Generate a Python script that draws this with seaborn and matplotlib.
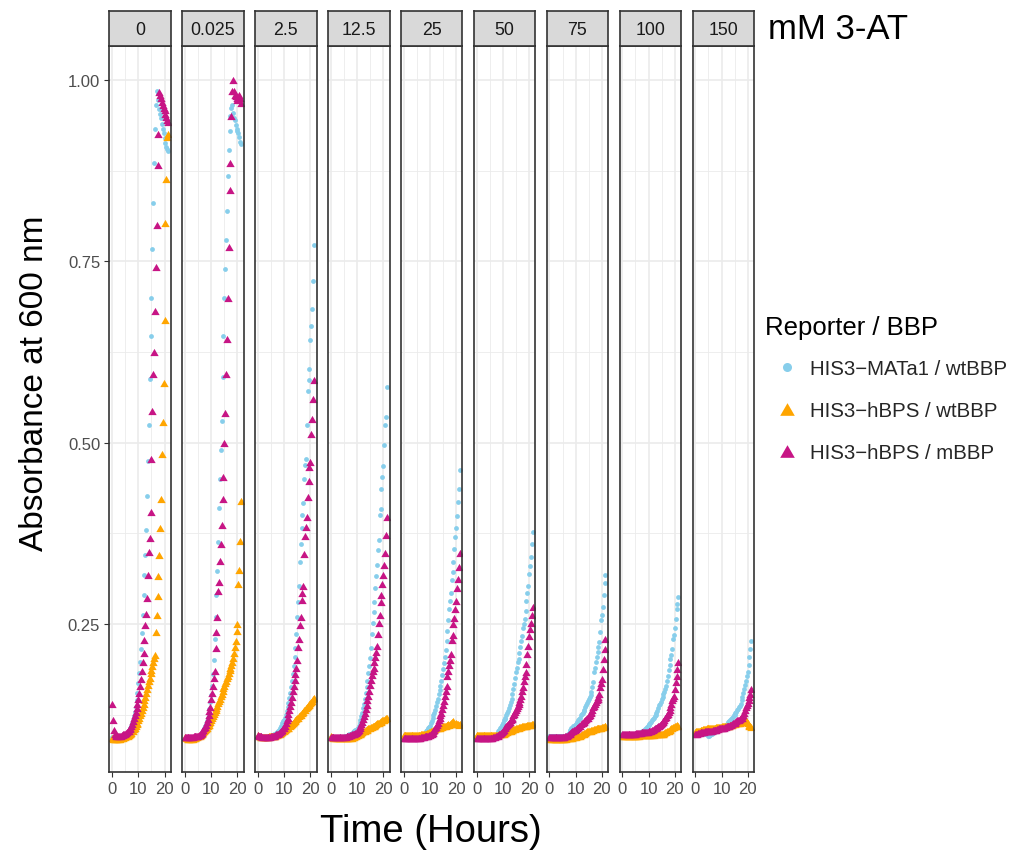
import numpy as np
import pandas as pd
import matplotlib
matplotlib.use("Agg")
import matplotlib.pyplot as plt
from matplotlib.path import Path
from matplotlib.lines import Line2D
import seaborn as sns

# ---------------- data ----------------
CONCENTRATIONS = ["0", "0.025", "2.5", "12.5", "25", "50", "75", "100", "150"]
SERIES = ["HIS3\u2212MATa1 / wtBBP", "HIS3\u2212hBPS / wtBBP", "HIS3\u2212hBPS / mBBP"]
HOURS = np.arange(65) / 3.0  # readings every 20 min, 0 .. 21.33 h (one row below = 2 h)

# HIS3-MATa1 / wtBBP (light blue)
MATA1_0 = [0.094, 0.094, 0.094, 0.093, 0.093, 0.093,
           0.093, 0.093, 0.093, 0.094, 0.094, 0.094,
           0.095, 0.096, 0.096, 0.097, 0.098, 0.098,
           0.100, 0.102, 0.104, 0.107, 0.110, 0.114,
           0.118, 0.123, 0.129, 0.136, 0.145, 0.155,
           0.168, 0.183, 0.198, 0.215, 0.238, 0.262,
           0.290, 0.317, 0.345, 0.380, 0.427, 0.475,
           0.525, 0.588, 0.647, 0.700, 0.767, 0.830,
           0.885, 0.932, 0.965, 0.985, 0.982, 0.972,
           0.960, 0.953, 0.947, 0.940, 0.933, 0.927,
           0.920, 0.913, 0.908, 0.905, 0.902]
MATA1_0025 = [0.093, 0.093, 0.093, 0.093, 0.093, 0.093,
              0.093, 0.093, 0.093, 0.093, 0.093, 0.093,
              0.094, 0.094, 0.094, 0.095, 0.096, 0.096,
              0.097, 0.099, 0.101, 0.103, 0.106, 0.109,
              0.112, 0.116, 0.120, 0.126, 0.133, 0.142,
              0.152, 0.165, 0.181, 0.200, 0.230, 0.260,
              0.290, 0.323, 0.363, 0.410, 0.450, 0.490,
              0.530, 0.590, 0.647, 0.700, 0.740, 0.780,
              0.820, 0.867, 0.903, 0.930, 0.950, 0.962,
              0.965, 0.955, 0.948, 0.945, 0.938, 0.933,
              0.930, 0.927, 0.922, 0.915, 0.912]
MATA1_2_5 = [0.095, 0.094, 0.094, 0.094, 0.094, 0.094,
             0.094, 0.094, 0.094, 0.094, 0.094, 0.094,
             0.094, 0.094, 0.095, 0.095, 0.096, 0.096,
             0.097, 0.098, 0.099, 0.100, 0.101, 0.103,
             0.104, 0.106, 0.108, 0.110, 0.113, 0.116,
             0.118, 0.121, 0.125, 0.130, 0.135, 0.141,
             0.148, 0.155, 0.163, 0.172, 0.181, 0.192,
             0.204, 0.217, 0.236, 0.259, 0.280, 0.303,
             0.336, 0.361, 0.383, 0.400, 0.417, 0.450,
             0.469, 0.478, 0.525, 0.571, 0.587, 0.602,
             0.641, 0.661, 0.684, 0.723, 0.773]
MATA1_12_5 = [0.094, 0.094, 0.094, 0.094, 0.094, 0.094,
              0.094, 0.094, 0.094, 0.094, 0.094, 0.094,
              0.094, 0.094, 0.094, 0.094, 0.095, 0.095,
              0.096, 0.096, 0.097, 0.098, 0.098, 0.099,
              0.100, 0.101, 0.102, 0.103, 0.104, 0.104,
              0.105, 0.107, 0.110, 0.114, 0.118, 0.123,
              0.128, 0.134, 0.140, 0.147, 0.155, 0.163,
              0.172, 0.182, 0.192, 0.203, 0.217, 0.236,
              0.252, 0.267, 0.280, 0.299, 0.316, 0.331,
              0.352, 0.366, 0.400, 0.409, 0.436, 0.453,
              0.468, 0.497, 0.524, 0.536, 0.577]
MATA1_25 = [0.094, 0.094, 0.094, 0.094, 0.094, 0.094,
            0.094, 0.094, 0.094, 0.094, 0.094, 0.094,
            0.094, 0.094, 0.094, 0.094, 0.094, 0.094,
            0.094, 0.094, 0.095, 0.096, 0.096, 0.097,
            0.099, 0.100, 0.102, 0.104, 0.106, 0.108,
            0.110, 0.113, 0.116, 0.120, 0.124, 0.128,
            0.132, 0.137, 0.142, 0.147, 0.153, 0.159,
            0.165, 0.172, 0.180, 0.188, 0.196, 0.205,
            0.214, 0.226, 0.241, 0.256, 0.271, 0.282,
            0.293, 0.310, 0.322, 0.335, 0.354, 0.370,
            0.382, 0.399, 0.418, 0.436, 0.462]
MATA1_50 = [0.094, 0.094, 0.094, 0.094, 0.094, 0.094,
            0.094, 0.094, 0.094, 0.094, 0.094, 0.094,
            0.094, 0.094, 0.094, 0.094, 0.094, 0.094,
            0.094, 0.095, 0.095, 0.096, 0.097, 0.098,
            0.100, 0.102, 0.104, 0.106, 0.108, 0.111,
            0.114, 0.117, 0.119, 0.121, 0.124, 0.127,
            0.130, 0.134, 0.138, 0.142, 0.147, 0.153,
            0.160, 0.167, 0.175, 0.184, 0.190, 0.198,
            0.202, 0.210, 0.218, 0.226, 0.234, 0.245,
            0.250, 0.257, 0.268, 0.282, 0.293, 0.302,
            0.319, 0.330, 0.343, 0.360, 0.377]
MATA1_75 = [0.095, 0.095, 0.095, 0.095, 0.095, 0.095,
            0.095, 0.095, 0.095, 0.095, 0.095, 0.095,
            0.095, 0.095, 0.095, 0.095, 0.095, 0.095,
            0.096, 0.096, 0.097, 0.099, 0.100, 0.102,
            0.104, 0.106, 0.107, 0.109, 0.110, 0.111,
            0.112, 0.114, 0.115, 0.117, 0.119, 0.121,
            0.124, 0.126, 0.128, 0.130, 0.132, 0.135,
            0.138, 0.141, 0.144, 0.147, 0.149, 0.152,
            0.156, 0.163, 0.170, 0.184, 0.190, 0.197,
            0.204, 0.211, 0.218, 0.225, 0.239, 0.255,
            0.262, 0.273, 0.290, 0.307, 0.317]
MATA1_100 = [0.098, 0.098, 0.098, 0.098, 0.098, 0.098,
             0.098, 0.098, 0.098, 0.098, 0.098, 0.098,
             0.098, 0.098, 0.098, 0.098, 0.098, 0.098,
             0.098, 0.099, 0.099, 0.100, 0.101, 0.102,
             0.103, 0.104, 0.105, 0.107, 0.108, 0.110,
             0.111, 0.112, 0.114, 0.115, 0.117, 0.119,
             0.121, 0.123, 0.125, 0.127, 0.130, 0.134,
             0.138, 0.140, 0.143, 0.147, 0.150, 0.153,
             0.156, 0.160, 0.165, 0.172, 0.179, 0.186,
             0.193, 0.202, 0.207, 0.216, 0.229, 0.235,
             0.245, 0.257, 0.271, 0.277, 0.287]
MATA1_150 = [0.100, 0.100, 0.100, 0.100, 0.100, 0.100,
             0.100, 0.100, 0.100, 0.100, 0.100, 0.099,
             0.099, 0.098, 0.097, 0.096, 0.096, 0.097,
             0.098, 0.099, 0.100, 0.101, 0.101, 0.102,
             0.102, 0.103, 0.103, 0.104, 0.105, 0.105,
             0.106, 0.107, 0.108, 0.109, 0.110, 0.111,
             0.112, 0.113, 0.115, 0.116, 0.117, 0.119,
             0.120, 0.122, 0.124, 0.125, 0.127, 0.129,
             0.131, 0.133, 0.135, 0.137, 0.140, 0.145,
             0.149, 0.155, 0.160, 0.166, 0.172, 0.178,
             0.184, 0.193, 0.204, 0.216, 0.227]

# HIS3-hBPS / wtBBP (orange)
WT_0 = [0.093, 0.092, 0.092, 0.092, 0.092, 0.092,
        0.092, 0.092, 0.092, 0.092, 0.093, 0.093,
        0.093, 0.094, 0.094, 0.094, 0.095, 0.095,
        0.096, 0.097, 0.098, 0.099, 0.100, 0.102,
        0.103, 0.105, 0.107, 0.109, 0.112, 0.114,
        0.117, 0.120, 0.124, 0.127, 0.131, 0.135,
        0.140, 0.145, 0.150, 0.155, 0.160, 0.166,
        0.171, 0.176, 0.182, 0.187, 0.192, 0.198,
        0.203, 0.207, 0.239, 0.263, 0.288, 0.316,
        0.345, 0.383, 0.422, 0.484, 0.529, 0.582,
        0.669, 0.803, 0.864, 0.922, 0.925]
WT_0025 = [0.094, 0.093, 0.093, 0.092, 0.092, 0.092,
           0.092, 0.092, 0.092, 0.092, 0.093, 0.093,
           0.093, 0.094, 0.094, 0.095, 0.096, 0.096,
           0.097, 0.098, 0.100, 0.101, 0.102, 0.104,
           0.105, 0.107, 0.109, 0.111, 0.113, 0.115,
           0.118, 0.121, 0.123, 0.126, 0.129, 0.131,
           0.134, 0.137, 0.141, 0.144, 0.147, 0.151,
           0.154, 0.158, 0.162, 0.165, 0.168, 0.172,
           0.176, 0.179, 0.183, 0.187, 0.190, 0.194,
           0.197, 0.203, 0.210, 0.218, 0.226, 0.240,
           0.250, 0.305, 0.325, 0.364, 0.420]
WT_2_5 = [0.097, 0.096, 0.095, 0.094, 0.094, 0.094,
          0.094, 0.094, 0.094, 0.094, 0.094, 0.094,
          0.094, 0.095, 0.095, 0.095, 0.095, 0.095,
          0.096, 0.096, 0.096, 0.097, 0.097, 0.098,
          0.099, 0.099, 0.100, 0.101, 0.101, 0.102,
          0.103, 0.104, 0.105, 0.106, 0.106, 0.107,
          0.109, 0.110, 0.111, 0.112, 0.113, 0.115,
          0.116, 0.117, 0.119, 0.120, 0.121, 0.123,
          0.124, 0.125, 0.127, 0.128, 0.129, 0.131,
          0.132, 0.134, 0.135, 0.137, 0.138, 0.140,
          0.141, 0.143, 0.144, 0.146, 0.148]
WT_12_5 = [0.095, 0.094, 0.094, 0.093, 0.093, 0.093,
           0.093, 0.093, 0.093, 0.093, 0.093, 0.093,
           0.093, 0.093, 0.093, 0.093, 0.093, 0.093,
           0.093, 0.093, 0.093, 0.093, 0.093, 0.093,
           0.093, 0.094, 0.094, 0.095, 0.095, 0.096,
           0.097, 0.097, 0.098, 0.099, 0.099, 0.100,
           0.101, 0.102, 0.102, 0.103, 0.104, 0.104,
           0.105, 0.106, 0.106, 0.107, 0.108, 0.108,
           0.109, 0.110, 0.110, 0.111, 0.112, 0.113,
           0.113, 0.114, 0.115, 0.115, 0.116, 0.117,
           0.117, 0.118, 0.119, 0.120, 0.121]
WT_25 = [0.097, 0.097, 0.097, 0.097, 0.097, 0.097,
         0.097, 0.097, 0.097, 0.097, 0.097, 0.097,
         0.097, 0.097, 0.097, 0.097, 0.097, 0.097,
         0.097, 0.097, 0.098, 0.098, 0.098, 0.098,
         0.099, 0.099, 0.099, 0.100, 0.100, 0.101,
         0.101, 0.102, 0.102, 0.103, 0.104, 0.104,
         0.105, 0.106, 0.106, 0.106, 0.107, 0.107,
         0.108, 0.108, 0.108, 0.109, 0.110, 0.110,
         0.110, 0.111, 0.111, 0.112, 0.111, 0.112,
         0.113, 0.115, 0.116, 0.113, 0.112, 0.112,
         0.113, 0.112, 0.112, 0.111, 0.112]
WT_50 = [0.097, 0.097, 0.097, 0.097, 0.097, 0.097,
         0.097, 0.097, 0.097, 0.097, 0.097, 0.097,
         0.097, 0.097, 0.097, 0.097, 0.097, 0.097,
         0.097, 0.097, 0.097, 0.097, 0.097, 0.097,
         0.097, 0.097, 0.098, 0.098, 0.098, 0.099,
         0.099, 0.099, 0.100, 0.100, 0.101, 0.101,
         0.102, 0.103, 0.103, 0.103, 0.104, 0.104,
         0.105, 0.105, 0.105, 0.106, 0.106, 0.107,
         0.107, 0.108, 0.108, 0.108, 0.109, 0.109,
         0.109, 0.110, 0.110, 0.110, 0.111, 0.111,
         0.111, 0.111, 0.111, 0.112, 0.112]
WT_75 = [0.093, 0.092, 0.092, 0.092, 0.092, 0.092,
         0.092, 0.092, 0.092, 0.092, 0.092, 0.092,
         0.092, 0.092, 0.092, 0.092, 0.092, 0.092,
         0.092, 0.092, 0.093, 0.093, 0.093, 0.093,
         0.093, 0.093, 0.093, 0.094, 0.094, 0.094,
         0.094, 0.095, 0.095, 0.095, 0.096, 0.096,
         0.097, 0.098, 0.098, 0.099, 0.100, 0.100,
         0.101, 0.102, 0.102, 0.103, 0.103, 0.103,
         0.104, 0.104, 0.104, 0.105, 0.105, 0.105,
         0.106, 0.106, 0.106, 0.107, 0.107, 0.107,
         0.108, 0.108, 0.108, 0.109, 0.109]
WT_100 = [0.096, 0.096, 0.096, 0.096, 0.096, 0.096,
          0.096, 0.096, 0.096, 0.096, 0.096, 0.096,
          0.096, 0.096, 0.096, 0.096, 0.096, 0.096,
          0.096, 0.096, 0.097, 0.097, 0.097, 0.097,
          0.097, 0.097, 0.097, 0.097, 0.097, 0.097,
          0.097, 0.097, 0.097, 0.097, 0.097, 0.097,
          0.097, 0.098, 0.098, 0.098, 0.098, 0.098,
          0.098, 0.098, 0.098, 0.098, 0.099, 0.099,
          0.100, 0.101, 0.101, 0.102, 0.103, 0.103,
          0.104, 0.105, 0.106, 0.107, 0.108, 0.108,
          0.109, 0.110, 0.111, 0.110, 0.109]
WT_150 = [0.101, 0.102, 0.102, 0.103, 0.103, 0.103,
          0.104, 0.104, 0.104, 0.105, 0.105, 0.105,
          0.105, 0.106, 0.106, 0.106, 0.106, 0.106,
          0.107, 0.107, 0.107, 0.107, 0.107, 0.107,
          0.108, 0.108, 0.108, 0.108, 0.108, 0.108,
          0.108, 0.109, 0.109, 0.109, 0.109, 0.109,
          0.110, 0.110, 0.110, 0.110, 0.111, 0.111,
          0.111, 0.112, 0.112, 0.112, 0.113, 0.113,
          0.113, 0.114, 0.114, 0.114, 0.115, 0.115,
          0.116, 0.117, 0.117, 0.118, 0.117, 0.115,
          0.113, 0.111, 0.110, 0.109, 0.108]

# HIS3-hBPS / mBBP (magenta)
MB_0 = [0.140, 0.118, 0.104, 0.099, 0.097, 0.096,
        0.096, 0.096, 0.096, 0.096, 0.096, 0.097,
        0.097, 0.098, 0.098, 0.099, 0.100, 0.101,
        0.102, 0.103, 0.105, 0.107, 0.109, 0.112,
        0.116, 0.120, 0.124, 0.129, 0.134, 0.140,
        0.147, 0.155, 0.164, 0.174, 0.185, 0.197,
        0.210, 0.228, 0.248, 0.264, 0.286, 0.318,
        0.349, 0.369, 0.405, 0.477, 0.544, 0.594,
        0.625, 0.682, 0.742, 0.800, 0.883, 0.926,
        0.984, 0.980, 0.975, 0.970, 0.966, 0.962,
        0.958, 0.953, 0.949, 0.945, 0.942]
MB_0025 = [0.094, 0.094, 0.094, 0.094, 0.094, 0.094,
           0.094, 0.094, 0.094, 0.094, 0.095, 0.095,
           0.095, 0.095, 0.095, 0.096, 0.097, 0.097,
           0.099, 0.100, 0.102, 0.104, 0.106, 0.108,
           0.111, 0.115, 0.119, 0.124, 0.130, 0.136,
           0.147, 0.155, 0.165, 0.175, 0.185, 0.217,
           0.239, 0.260, 0.296, 0.308, 0.337, 0.360,
           0.386, 0.423, 0.452, 0.500, 0.541, 0.594,
           0.643, 0.700, 0.770, 0.848, 0.885, 0.951,
           0.985, 1.000, 0.985, 0.980, 0.978, 0.975,
           0.972, 0.975, 0.980, 0.975, 0.968]
MB_2_5 = [0.097, 0.096, 0.096, 0.095, 0.095, 0.094,
          0.094, 0.094, 0.094, 0.094, 0.094, 0.094,
          0.094, 0.094, 0.094, 0.095, 0.095, 0.095,
          0.096, 0.096, 0.097, 0.098, 0.098, 0.099,
          0.100, 0.101, 0.102, 0.103, 0.104, 0.106,
          0.107, 0.110, 0.113, 0.117, 0.121, 0.126,
          0.131, 0.137, 0.143, 0.150, 0.157, 0.165,
          0.173, 0.181, 0.190, 0.200, 0.218, 0.229,
          0.248, 0.260, 0.283, 0.293, 0.302, 0.346,
          0.371, 0.384, 0.398, 0.425, 0.447, 0.466,
          0.473, 0.512, 0.532, 0.560, 0.587]
MB_12_5 = [0.094, 0.094, 0.094, 0.094, 0.094, 0.094,
           0.094, 0.094, 0.094, 0.094, 0.094, 0.094,
           0.094, 0.094, 0.094, 0.094, 0.094, 0.094,
           0.095, 0.095, 0.096, 0.096, 0.097, 0.097,
           0.098, 0.098, 0.099, 0.099, 0.100, 0.100,
           0.101, 0.102, 0.104, 0.106, 0.109, 0.112,
           0.115, 0.119, 0.123, 0.128, 0.133, 0.139,
           0.145, 0.151, 0.158, 0.166, 0.173, 0.180,
           0.185, 0.190, 0.198, 0.205, 0.212, 0.220,
           0.236, 0.252, 0.263, 0.280, 0.290, 0.305,
           0.318, 0.332, 0.348, 0.373, 0.398]
MB_25 = [0.093, 0.093, 0.093, 0.093, 0.093, 0.093,
         0.093, 0.093, 0.093, 0.093, 0.093, 0.093,
         0.093, 0.093, 0.093, 0.093, 0.093, 0.093,
         0.093, 0.093, 0.094, 0.094, 0.094, 0.094,
         0.095, 0.095, 0.095, 0.096, 0.096, 0.097,
         0.097, 0.098, 0.099, 0.100, 0.102, 0.104,
         0.106, 0.108, 0.111, 0.114, 0.117, 0.120,
         0.124, 0.128, 0.133, 0.138, 0.144, 0.151,
         0.158, 0.165, 0.179, 0.185, 0.193, 0.200,
         0.209, 0.228, 0.235, 0.250, 0.258, 0.271,
         0.282, 0.300, 0.312, 0.328, 0.348]
MB_50 = [0.093, 0.093, 0.093, 0.093, 0.093, 0.093,
         0.093, 0.093, 0.093, 0.093, 0.093, 0.093,
         0.093, 0.093, 0.093, 0.093, 0.093, 0.093,
         0.093, 0.094, 0.094, 0.094, 0.095, 0.095,
         0.096, 0.097, 0.098, 0.099, 0.100, 0.101,
         0.102, 0.104, 0.106, 0.108, 0.110, 0.111,
         0.112, 0.113, 0.115, 0.117, 0.119, 0.121,
         0.124, 0.126, 0.129, 0.131, 0.134, 0.137,
         0.140, 0.143, 0.147, 0.151, 0.157, 0.163,
         0.172, 0.178, 0.184, 0.195, 0.209, 0.220,
         0.233, 0.243, 0.252, 0.262, 0.273]
MB_75 = [0.094, 0.094, 0.094, 0.094, 0.094, 0.094,
         0.094, 0.094, 0.094, 0.094, 0.094, 0.094,
         0.094, 0.094, 0.094, 0.094, 0.094, 0.094,
         0.095, 0.095, 0.096, 0.097, 0.098, 0.099,
         0.100, 0.101, 0.102, 0.103, 0.104, 0.104,
         0.105, 0.106, 0.107, 0.108, 0.109, 0.110,
         0.112, 0.113, 0.114, 0.115, 0.116, 0.117,
         0.119, 0.120, 0.121, 0.123, 0.125, 0.127,
         0.129, 0.132, 0.135, 0.137, 0.140, 0.142,
         0.145, 0.147, 0.150, 0.154, 0.163, 0.168,
         0.174, 0.188, 0.202, 0.216, 0.229]
MB_100 = [0.099, 0.099, 0.099, 0.099, 0.099, 0.099,
          0.099, 0.099, 0.099, 0.099, 0.099, 0.099,
          0.099, 0.099, 0.099, 0.099, 0.100, 0.100,
          0.100, 0.100, 0.100, 0.100, 0.101, 0.101,
          0.101, 0.101, 0.101, 0.101, 0.101, 0.101,
          0.102, 0.102, 0.103, 0.103, 0.104, 0.104,
          0.105, 0.106, 0.106, 0.107, 0.108, 0.109,
          0.110, 0.111, 0.112, 0.113, 0.115, 0.116,
          0.118, 0.120, 0.122, 0.124, 0.126, 0.129,
          0.132, 0.135, 0.140, 0.145, 0.148, 0.151,
          0.160, 0.170, 0.179, 0.188, 0.197]
MB_150 = [0.099, 0.099, 0.099, 0.100, 0.100, 0.100,
          0.101, 0.101, 0.101, 0.101, 0.101, 0.102,
          0.102, 0.102, 0.102, 0.102, 0.103, 0.103,
          0.103, 0.103, 0.104, 0.104, 0.104, 0.104,
          0.104, 0.105, 0.105, 0.106, 0.106, 0.106,
          0.106, 0.107, 0.107, 0.107, 0.108, 0.108,
          0.109, 0.109, 0.110, 0.110, 0.111, 0.111,
          0.112, 0.113, 0.113, 0.114, 0.115, 0.116,
          0.117, 0.117, 0.118, 0.119, 0.120, 0.121,
          0.123, 0.125, 0.128, 0.131, 0.135, 0.138,
          0.141, 0.145, 0.149, 0.154, 0.160]

MATA1 = [MATA1_0, MATA1_0025, MATA1_2_5, MATA1_12_5, MATA1_25, MATA1_50, MATA1_75, MATA1_100, MATA1_150]
WT = [WT_0, WT_0025, WT_2_5, WT_12_5, WT_25, WT_50, WT_75, WT_100, WT_150]
MB = [MB_0, MB_0025, MB_2_5, MB_12_5, MB_25, MB_50, MB_75, MB_100, MB_150]

rows = []
for ci, conc in enumerate(CONCENTRATIONS):
    for name, vals in zip(SERIES, [MATA1[ci], WT[ci], MB[ci]]):
        for h, v in zip(HOURS, vals):
            rows.append((conc, name, h, v))
df = pd.DataFrame(rows, columns=["conc", "series", "hours", "od"])

# ---------------- style ----------------
sns.set_theme(style="white")
plt.rcParams["font.family"] = ["Liberation Sans", "DejaVu Sans"]

COLORS = {SERIES[0]: "#87CEEB", SERIES[1]: "#FFA500", SERIES[2]: "#C71585"}
TRI = Path([(-0.5, -0.433), (0.5, -0.433), (0.0, 0.433), (-0.5, -0.433)],
           [Path.MOVETO, Path.LINETO, Path.LINETO, Path.CLOSEPOLY])
MARKERS = {SERIES[0]: "o", SERIES[1]: TRI, SERIES[2]: TRI}
SIZES = {SERIES[0]: 12, SERIES[1]: 36, SERIES[2]: 36}

W, H = 1016, 854
fig = plt.figure(figsize=(W / 100, H / 100), dpi=100)
fig.patch.set_facecolor("white")


def fx(px):
    return px / W


def fy(py):
    return 1 - py / H


LEFT0, PITCH, PW = 109.3, 72.9, 61.5
PTOP, PBOT, STOP = 46.7, 772.7, 11.7
BORDER = "#333333"

for i, conc in enumerate(CONCENTRATIONS):
    x0 = LEFT0 + i * PITCH
    ax = fig.add_axes([fx(x0), fy(PBOT), PW / W, (PBOT - PTOP) / H])
    sub = df[df.conc == conc]
    for name in SERIES:
        sns.scatterplot(data=sub[sub.series == name], x="hours", y="od",
                        color=COLORS[name], marker=MARKERS[name], s=SIZES[name],
                        linewidth=0, ax=ax, legend=False)
    ax.set_xlim(-1.067, 22.4)
    ax.set_ylim(0.0464, 1.0473)
    ax.set_xticks([0, 10, 20])
    ax.set_xticks([5, 15], minor=True)
    ax.set_yticks([0.25, 0.50, 0.75, 1.00])
    ax.set_yticks([0.125, 0.375, 0.625, 0.875], minor=True)
    ax.set_yticklabels(["0.25", "0.50", "0.75", "1.00"])
    ax.grid(which="major", color="#EBEBEB", linewidth=1.2)
    ax.grid(which="minor", color="#EBEBEB", linewidth=0.6)
    ax.set_axisbelow(True)
    ax.set_xlabel("")
    ax.set_ylabel("")
    for sp in ax.spines.values():
        sp.set_color(BORDER)
        sp.set_linewidth(1.2)
        sp.set_visible(True)
    ax.tick_params(which="major", length=3.6, width=0.8, color=BORDER,
                   labelsize=12, labelcolor="#4D4D4D", pad=3,
                   bottom=True, left=(i == 0), labelleft=(i == 0))
    ax.tick_params(which="minor", length=0)

    sax = fig.add_axes([fx(x0), fy(PTOP), PW / W, (PTOP - STOP) / H])
    sax.set_facecolor("#D9D9D9")
    sax.set_xticks([])
    sax.set_yticks([])
    for sp in sax.spines.values():
        sp.set_color(BORDER)
        sp.set_linewidth(1.2)
    sax.text(0.5, 0.47, conc, ha="center", va="center", fontsize=12.8,
             color="#1A1A1A", transform=sax.transAxes)

fig.text(fx(768), fy(29.5), "mM 3-AT", fontsize=25, ha="left", va="center", color="black")
fig.text(fx(35), fy(383), "Absorbance at 600 nm", fontsize=24, rotation=90,
         ha="center", va="center", color="black")
fig.text(fx(431), fy(832), "Time (Hours)", fontsize=27.5, ha="center", va="center", color="black")

# legend: title as its own text, entries below
fig.text(fx(765), fy(328), "Reporter / BBP", fontsize=18.5, ha="left", va="center", color="black")
handles = [
    Line2D([], [], ls="", marker="o", color=COLORS[SERIES[0]], markersize=6.5, markeredgewidth=0),
    Line2D([], [], ls="", marker=TRI, color=COLORS[SERIES[1]], markersize=10.5, markeredgewidth=0),
    Line2D([], [], ls="", marker=TRI, color=COLORS[SERIES[2]], markersize=10.5, markeredgewidth=0),
]
fig.legend(handles, SERIES, loc="upper left",
           bbox_to_anchor=(fx(766), fy(360)), frameon=False, fontsize=14.7,
           handlelength=2.1, handletextpad=0.05,
           labelspacing=1.12, borderpad=0, borderaxespad=0)

fig.savefig("out.png", dpi=100, facecolor="white")
